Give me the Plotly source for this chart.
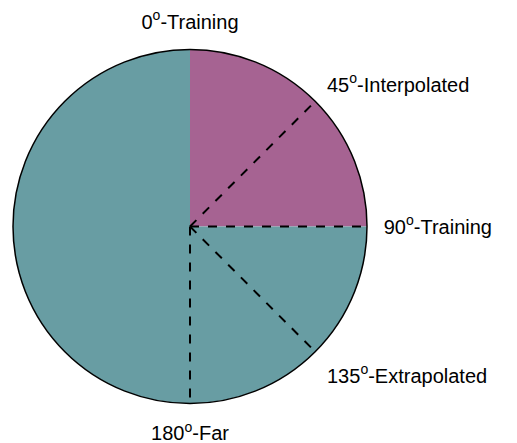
import plotly.graph_objects as go

# Data
sector_names = ["Training range", "Untrained range"]
sector_centers = [45, 225]        # degrees
sector_widths = [90, 270]         # degrees
sector_colors = ["#A66392", "#689DA3"]

divider_angles = [45, 90, 135, 180]
tick_angles = [0, 45, 90, 135, 180]
tick_labels = ["0<sup>o</sup>-Training", "45<sup>o</sup>-Interpolated", "90<sup>o</sup>-Training",
               "135<sup>o</sup>-Extrapolated", "180<sup>o</sup>-Far"]

fig = go.Figure()
for name, c, w, col in zip(sector_names, sector_centers, sector_widths, sector_colors):
    fig.add_trace(go.Barpolar(r=[1], theta=[c], width=[w], name=name,
                              marker=dict(color=col, line=dict(width=0)),
                              showlegend=False, hoverinfo="skip"))
for a in divider_angles:
    fig.add_trace(go.Scatterpolar(r=[0, 1], theta=[a, a], mode="lines",
                                  line=dict(color="black", width=2, dash="dash"),
                                  showlegend=False, hoverinfo="skip"))

fig.update_layout(
    width=509, height=435,
    margin=dict(l=5, r=150, t=41, b=39),
    paper_bgcolor="white", plot_bgcolor="white",
    font=dict(family="Liberation Sans, Arial, sans-serif", size=20, color="black"),
    polar=dict(
        bgcolor="white",
        hole=0,
        bargap=0,
        radialaxis=dict(range=[0, 1], visible=False, showgrid=False),
        angularaxis=dict(rotation=90, direction="clockwise",
                         tickmode="array", tickvals=tick_angles, ticktext=tick_labels,
                         showgrid=False, showline=True, linecolor="black", linewidth=1.5,
                         ticks="outside", ticklen=12, tickcolor="rgba(0,0,0,0)",
                         tickfont=dict(size=20, color="black")),
    ),
)
fig.write_html("out.html")
